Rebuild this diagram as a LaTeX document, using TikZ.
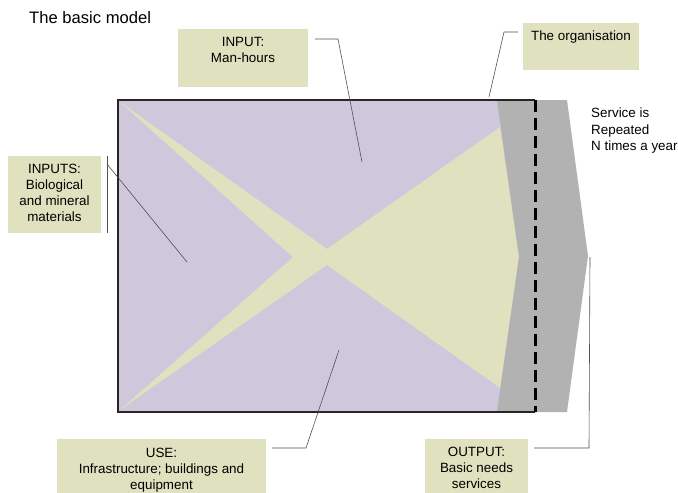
\documentclass[tikz,border=0pt]{standalone}
\usepackage{fontspec}
\setmainfont{Liberation Sans}
\definecolor{lav}{RGB}{207,199,220}
\definecolor{olivebox}{RGB}{224,225,191}
\definecolor{grayband}{RGB}{178,178,178}
\definecolor{lead}{RGB}{80,80,80}
\tikzset{
  callbox/.style={fill=olivebox, draw=none, inner sep=0pt, anchor=north west},
  lbl/.style={inner sep=0pt, align=center, font=\fontsize{13.4}{16}\selectfont, anchor=north},
  leader/.style={draw=lead, line width=0.6pt},
}
\begin{document}
\begin{tikzpicture}[x=1pt,y=-1pt]
\useasboundingbox (0,0) rectangle (678,493);
% title
\node[inner sep=0pt, anchor=north west, font=\fontsize{16.6}{19}\selectfont] (title) at (29,11) {The basic model};
% main field
\fill[lav] (118,100) rectangle (535,412);
\fill[olivebox] (120,102) -- (327,249) -- (500,127) -- (519,257) -- (500,388) -- (327,265) -- (120,410) -- (293,257) -- (285,250) -- cycle;
\fill[grayband] (497,100) -- (567,100) -- (588,256) -- (567,412) -- (497,412) -- (519,257) -- cycle;
\draw[line width=1.5pt, black!85] (535,100) -- (118,100) -- (118,412) -- (535,412);
\draw[line width=3pt, dash pattern=on 12pt off 6pt] (535,100) -- (535,412);
% boxes
\node[callbox, minimum width=130pt, minimum height=58pt] (inbox) at (178,29) {};
\node[lbl] (intext) at (243,37.5) {INPUT:\\Man-hours};
\node[callbox, minimum width=116pt, minimum height=47pt] (orgbox) at (523,23) {};
\node[lbl] (orgtext) at (581,31) {The organisation};
\node[inner sep=0pt, anchor=north west, align=left, font=\fontsize{13.4}{16.5}\selectfont] (service) at (591,108) {Service is\\Repeated\\N times a year};
\node[callbox, minimum width=93pt, minimum height=77pt] (insbox) at (8,156) {};
\node[lbl] (instext) at (54.5,164) {INPUTS:\\Biological\\and mineral\\materials};
\node[callbox, minimum width=209pt, minimum height=60pt] (usebox) at (57,439) {};
\node[lbl] (usetext) at (161.5,448) {USE:\\Infrastructure; buildings and\\equipment};
\node[callbox, minimum width=103pt, minimum height=60pt] (outbox) at (425,439) {};
\node[lbl] (outtext) at (476.5,447) {OUTPUT:\\Basic needs\\services};
% leader lines
\coordinate (inS) at (315,39);
\coordinate (inB) at (338,39);
\coordinate (inE) at (362,162);
\draw[leader] (inS) -- (inB) -- (inE);
\coordinate (orgS) at (518,32);
\coordinate (orgB) at (504,32);
\coordinate (orgE) at (489,97);
\draw[leader] (orgS) -- (orgB) -- (orgE);
\coordinate (insT) at (107,156);
\coordinate (insBot) at (107,233);
\coordinate (insS) at (107,164);
\coordinate (insE) at (187,262);
\draw[leader] (insT) -- (insBot);
\draw[leader] (insS) -- (insE);
\coordinate (useS) at (272,448);
\coordinate (useB) at (306,448);
\coordinate (useE) at (339,350);
\draw[leader] (useS) -- (useB) -- (useE);
\coordinate (outS) at (534,448);
\coordinate (outB) at (589,448);
\coordinate (outE) at (590,257);
\draw[leader] (outS) -- (outB) -- (outE);
\end{tikzpicture}
\end{document}
